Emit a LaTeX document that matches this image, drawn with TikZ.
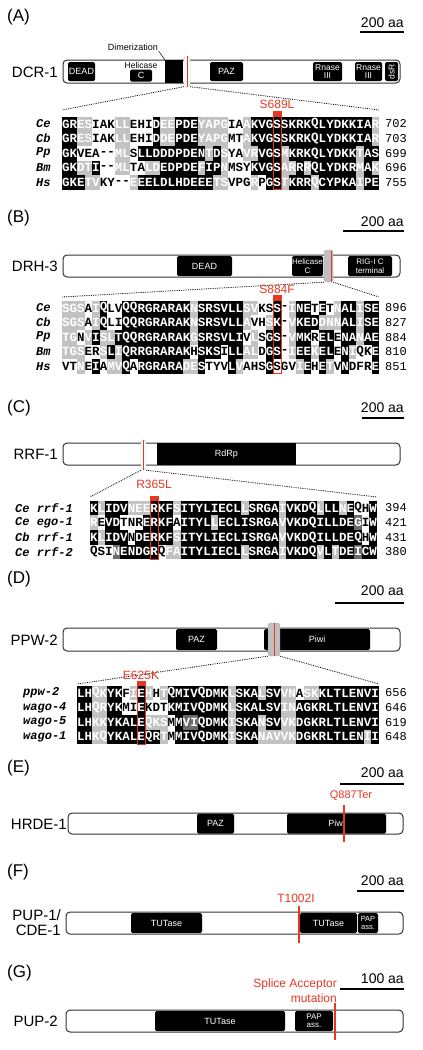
\documentclass[tikz,border=0pt]{standalone}
\usepackage{fontspec}
\setmainfont{Liberation Sans}
\newfontfamily\seqfont{Liberation Mono}
\usepackage{tikz}
\usetikzlibrary{calc}

\definecolor{mutred}{RGB}{230,55,35}
\definecolor{alnk}{gray}{0}
\definecolor{alng}{gray}{0.42}
\definecolor{alnl}{gray}{0.76}
\definecolor{alnw}{gray}{1}

\tikzset{
  protein/.style={draw=black!80, line width=1pt, rounded corners=4pt, fill=white},
  dombox/.style={fill=black, rounded corners=1.5pt, inner sep=0pt, text=white, align=center, font=\fontsize{9}{9}\selectfont},
  zoombox/.style={draw=black!60, densely dotted, rounded corners=2.5pt, inner sep=0pt},
  zoomline/.style={densely dotted, line width=0.8pt},
  seqchar/.style={inner sep=0pt, font=\seqfont\bfseries\fontsize{12.5}{12.5}\selectfont},
  species/.style={anchor=west, inner sep=0pt, font=\seqfont\bfseries\itshape\fontsize{12}{12}\selectfont},
  seqnum/.style={anchor=west, inner sep=0pt, font=\seqfont\fontsize{12}{12}\selectfont},
  panel/.style={anchor=west, inner sep=0pt, font=\fontsize{17}{17}\selectfont},
  scalelab/.style={anchor=east, inner sep=0pt, font=\fontsize{14}{14}\selectfont},
  scalebar/.style={line width=1.4pt},
  protlab/.style={anchor=east, inner sep=0pt, font=\fontsize{15}{15}\selectfont},
  mutlab/.style={text=mutred, inner sep=0pt, font=\fontsize{12}{12}\selectfont},
  mutcol/.style={draw=mutred, line width=0.8pt},
  mutline/.style={mutred, line width=1.6pt},
}

% one aligned row: name, x0, y, residues, shading (k black, g gray, l light, w white)
\makeatletter
\newcount\alncol
\def\cellw{7.55}
\newcommand\seqrow[5]{%
  \global\alncol=0
  \def\aln@name{#1}\def\aln@x{#2}\def\aln@y{#3}%
  \aln@next#4\relax#5\relax}
\def\aln@next#1#2\relax#3#4\relax{%
  \aln@cell{#1}{#3}%
  \global\advance\alncol by 1
  \ifx\relax#2\relax\else\aln@next#2\relax#4\relax\fi}
\def\aln@cell#1#2{%
  \ifx w#2\def\aln@tc{black}\else\def\aln@tc{white}\fi
  \fill[aln#2] ({\aln@x+\the\alncol*\cellw},{\aln@y-7.3}) rectangle ({\aln@x+(\the\alncol+1)*\cellw+0.25},{\aln@y+7.45});
  \node[seqchar,text=\aln@tc] (\aln@name-\the\alncol) at ({\aln@x+(\the\alncol+0.5)*\cellw},\aln@y) {#1};}
\makeatother

\begin{document}
\begin{tikzpicture}[x=1pt,y=-1pt]
\useasboundingbox (0,0) rectangle (423,1050);

% (A) DCR-1
\begin{scope}
  \node[panel] (pA) at (7,17) {(A)};
  \node[scalelab] (sA) at (404,23) {200 aa};
  \draw[scalebar] (360,32) -- (404,32);
  \draw[protein] (63,60) rectangle (400,83);
  \node[protlab] (dcr) at (58,72) {DCR-1};
  \node[dombox, minimum width=27, minimum height=19] (deadA) at (81.5,71.5) {DEAD};
  \node[dombox, minimum width=22, minimum height=12] (helA) at (141,75.5) {C};
  \node[inner sep=0pt, font=\fontsize{8.5}{8.5}\selectfont] (helAt) at (141,65.5) {Helicase};
  \node[dombox, rounded corners=0pt, minimum width=18, minimum height=23] (dimA) at (174,71.5) {};
  \node[inner sep=0.5pt, font=\fontsize{9}{9}\selectfont] (dimlab) at (133,47) {Dimerization};
  \draw[line width=0.5pt] (dimlab.south east) -- (dimA.north west);
  \node[zoombox, fill=white, minimum width=6, minimum height=30] (zA) at (187,71.5) {};
  \draw[mutred, line width=0.6pt] (zA.north) -- (zA.south);
  \node[dombox, minimum width=33, minimum height=19] (pazA) at (226.5,71.5) {PAZ};
  \node[dombox, minimum width=29, minimum height=19, font=\fontsize{8.5}{8.5}\selectfont] (rn1A) at (327.5,71.5) {Rnase\\III};
  \node[dombox, minimum width=27, minimum height=19, font=\fontsize{8.5}{8.5}\selectfont] (rn2A) at (368.5,71.5) {Rnase\\III};
  \node[dombox, rotate=90, minimum width=19, minimum height=13, font=\fontsize{8.5}{8.5}\selectfont] (dsrA) at (391.5,71.5) {dsR};
  \coordinate (Atl) at (62,110);
  \coordinate (Atr) at (379,110);
  \draw[zoomline] (zA.south west) -- (Atl);
  \draw[zoomline] (zA.south east) -- (Atr);
  \seqrow{A1}{62}{124}{GRESIAKLLEHIDEEPDEYAPGIAAKVGSSKRKQLYDKKIAR}{kkllwwwllwwwkllkkkllllwwlkkkkkkkkkkkkkkkkl}
  \seqrow{A2}{62}{138.6}{GRESIAKLLEHIDDEPDEYAPGMTAKVGSSKRKQLYDKKIAR}{kkllwwwllwwwkllkkkllllwwlkkkkkkkkkkkkkkkkl}
  \seqrow{A3}{62}{153.2}{GKVEA--MLSLLDDDPDENTDSYAVRVGSMKRKQLYDKKTAS}{kkwwwwwllwkkkkkkkkklklwwllkkklkkkkkkkkklkk}
  \seqrow{A4}{62}{167.8}{GKDTI--MLTALDEDPDEFIPNMSYKVGSARRRQLYDKRMAK}{kkllkwwllwwllkkkkklkklwwwkkkkllklkkkkkklkl}
  \seqrow{A5}{62}{182.4}{GKETVKY--EEELDLHDEEETSVPGRPGSTKRRQCYPKAIPE}{kkkllwwwwlkkkkkkkkkkllwwwlwkklkkklkkkkklkk}
  \node[species] (spA1) at (36,124) {Ce};
  \node[species] (spA2) at (36,138.6) {Cb};
  \node[species] (spA3) at (36,153.2) {Pp};
  \node[species] (spA4) at (36,167.8) {Bm};
  \node[species] (spA5) at (36,182.4) {Hs};
  \node[seqnum] (nA1) at (385,124) {702};
  \node[seqnum] (nA2) at (385,138.6) {703};
  \node[seqnum] (nA3) at (385,153.2) {699};
  \node[seqnum] (nA4) at (385,167.8) {696};
  \node[seqnum] (nA5) at (385,182.4) {755};
  \fill[mutred] (273.4,111) rectangle (281,117);
  \draw[mutcol] (273.4,111) rectangle (281,189.7);
  \node[mutlab] (mA) at (277,104) {S689L};
\end{scope}

% (B) DRH-3
\begin{scope}
  \node[panel] (pB) at (7,218) {(B)};
  \node[scalelab] (sB) at (404,222) {200 aa};
  \draw[scalebar] (343,231) -- (404,231);
  \draw[protein] (63,255) rectangle (400,277);
  \node[protlab] (drh) at (58,266.5) {DRH-3};
  \node[dombox, minimum width=55, minimum height=20] (deadB) at (204.5,266) {DEAD};
  \node[dombox, minimum width=31, minimum height=20, font=\fontsize{8}{8.5}\selectfont] (helB) at (307.5,266) {Helicase\\C};
  \node[zoombox, fill=black!25, minimum width=9, minimum height=32] (zB) at (328.5,266) {};
  \draw[mutred, line width=0.6pt] (331,250.5) -- (331,281.5);
  \node[dombox, minimum width=44, minimum height=20, font=\fontsize{8}{8.5}\selectfont] (rigB) at (370,266) {RIG-I C\\terminal};
  \coordinate (Btl) at (62,297);
  \coordinate (Btr) at (379,297);
  \draw[zoomline] (zB.south west) -- (Btl);
  \draw[zoomline] (zB.south east) -- (Btr);
  \seqrow{B1}{62}{308}{SGSAIQLVQQRGRARAKNSRSVLLSVKSS-INETETNALISE}{lllwlkwwkkkkkkkkklkkkkkkllwwkwlkkwkwlkklkk}
  \seqrow{B2}{62}{322.6}{SGSAIQLIQQRGRARAKNSRSVLLAVHSK-VKEDDNNALISE}{lllwlkwwkkkkkkkkklkkkkkklwwlkwlkkklllkklkk}
  \seqrow{B3}{62}{337.2}{TGNVISLTQQRGRARAKGSRSVLIVLSGS-VMKRELENANAE}{llwlkllkkkkkkkkkklkkkkkkwlwkkwlkkwkkwkklkk}
  \seqrow{B4}{62}{351.8}{TGSERSLIQRRGRARAKHSKSILLALDGS-IEEKELENIQKE}{lllwwlklkkkkkkkkkwkkkwkkllwkkwlkklkkwklwwk}
  \seqrow{B5}{62}{366.4}{VTNEIAMVQARGRARADESTYVLVAHSGSGVIEHETVNDFRE}{wwlwkwllkwkkkkkkllkwwwklwwwkwwwlkwklwkwwwk}
  \node[species] (spB1) at (36,308) {Ce};
  \node[species] (spB2) at (36,322.6) {Cb};
  \node[species] (spB3) at (36,337.2) {Pp};
  \node[species] (spB4) at (36,351.8) {Bm};
  \node[species] (spB5) at (36,366.4) {Hs};
  \node[seqnum] (nB1) at (385,308) {896};
  \node[seqnum] (nB2) at (385,322.6) {827};
  \node[seqnum] (nB3) at (385,337.2) {884};
  \node[seqnum] (nB4) at (385,351.8) {810};
  \node[seqnum] (nB5) at (385,366.4) {851};
  \fill[mutred] (273.4,295) rectangle (281,301);
  \draw[mutcol] (273.4,295) rectangle (281,373.7);
  \node[mutlab] (mB) at (277,289) {S884F};
\end{scope}

% (C) RRF-1
\begin{scope}
  \node[panel] (pC) at (7,408) {(C)};
  \node[scalelab] (sC) at (404,408) {200 aa};
  \draw[scalebar] (362,418) -- (404,418);
  \draw[protein] (63,443) rectangle (400,465);
  \node[protlab] (rrf) at (58,454.5) {RRF-1};
  \node[dombox, rounded corners=0pt, minimum width=139, minimum height=22] (rdrp) at (226.5,454) {RdRp};
  \node[zoombox, fill=white, minimum width=5, minimum height=30] (zC) at (143.5,455) {};
  \draw[mutred, line width=0.6pt] (zC.north) -- (zC.south);
  \coordinate (Ctl) at (90,497);
  \coordinate (Ctr) at (377,497);
  \draw[zoomline] (zC.south west) -- (Ctl);
  \draw[zoomline] (zC.south east) -- (Ctr);
  \seqrow{C1}{90}{508}{KLIDVNEERKFSITYLIECLLSRGAIVKDQLLLNEQHW}{klkkklllkkklkkkkkkkklkkkklkkkklkklkwwk}
  \seqrow{C2}{90}{522.6}{REVDTNRERKFAITYLLECLISRGAVVKDQILLDEGIW}{lwkkwwwkkkkwkkkklkkkkkkkklkkkkkkkkkgwk}
  \seqrow{C3}{90}{537.2}{KLIDVNDERKFSITYLIECLISRGAVVKDQILLDEQHW}{klkkkwkkkkklkkkkkkkkkkkkklkkkkkkkkkkwk}
  \seqrow{C4}{90}{551.8}{QSINENDGRQFAITYLIECLLSRGAIVKDQVLTDEICW}{wwwgkkkkkwllkkkkkkkklkkkklkkkklklkkgkk}
  \node[species] (spC1) at (15,508) {Ce rrf-1};
  \node[species] (spC2) at (15,522.6) {Ce ego-1};
  \node[species] (spC3) at (15,537.2) {Cb rrf-1};
  \node[species] (spC4) at (15,551.8) {Ce rrf-2};
  \node[seqnum] (nC1) at (385,508) {394};
  \node[seqnum] (nC2) at (385,522.6) {421};
  \node[seqnum] (nC3) at (385,537.2) {431};
  \node[seqnum] (nC4) at (385,551.8) {380};
  \fill[mutred] (150.4,496) rectangle (158,501);
  \draw[mutcol] (150.4,496) rectangle (158,559.1);
  \node[mutlab] (mC) at (154,484) {R365L};
\end{scope}

% (D) PPW-2
\begin{scope}
  \node[panel] (pD) at (7,579) {(D)};
  \node[scalelab] (sD) at (404,591) {200 aa};
  \draw[scalebar] (335,603) -- (404,603);
  \draw[protein] (63,628) rectangle (400,651);
  \node[protlab] (ppw) at (58,640) {PPW-2};
  \node[dombox, minimum width=41, minimum height=21] (pazD) at (196.5,639.5) {PAZ};
  \node[dombox, minimum width=106, minimum height=21] (piwiD) at (317,639.5) {Piwi};
  \node[zoombox, fill=black!25, minimum width=12, minimum height=33] (zD) at (274,639.5) {};
  \draw[mutred, line width=0.6pt] (zD.north) -- (zD.south);
  \coordinate (Dtl) at (77,684);
  \coordinate (Dtr) at (379,684);
  \draw[zoomline] (zD.south west) -- (Dtl);
  \draw[zoomline] (zD.south east) -- (Dtr);
  \seqrow{D1}{77}{693}{LHQKYKFIEHHTQMIVQDMKLSKALSVVNASKKLTLENVI}{kkllkkwlklwlkkkkkkkklkkklkkllwllkkkkkkkk}
  \seqrow{D2}{77}{707.6}{LHQRYKMIEKDTKMIVQDMKLSKALSVINAGKRLTLENVI}{kkllkkwwkwwwkkkkkkkklkkkkkkllkkkkkkkkkkk}
  \seqrow{D3}{77}{722.2}{LHKKYKALEQKSMMVIQDMKISKANSVVKDGKRLTLENVI}{kkllkkkkklllwkggkkkklkkklkkllkkkkkkkkkkk}
  \seqrow{D4}{77}{736.8}{LHKQYKALEQRTMMIVQDMKISKANAVVKDGKRLTLENII}{kkllkkkkkkklwkkkkkkklkkklllllkkkkkkkkklk}
  \node[species] (spD1) at (23,693) {ppw-2};
  \node[species] (spD2) at (23,707.6) {wago-4};
  \node[species] (spD3) at (23,722.2) {wago-5};
  \node[species] (spD4) at (23,736.8) {wago-1};
  \node[seqnum] (nD1) at (385,693) {656};
  \node[seqnum] (nD2) at (385,707.6) {646};
  \node[seqnum] (nD3) at (385,722.2) {619};
  \node[seqnum] (nD4) at (385,736.8) {648};
  \fill[mutred] (137.4,681) rectangle (145,686);
  \draw[mutcol] (137.4,681) rectangle (145,744.1);
  \node[mutlab] (mD) at (141,675) {E625K};
\end{scope}

% (E) HRDE-1
\begin{scope}
  \node[panel] (pE) at (7,768) {(E)};
  \node[scalelab] (sE) at (404,773) {200 aa};
  \draw[scalebar] (340,784) -- (404,784);
  \draw[protein] (68,813) rectangle (403,834);
  \node[protlab] (hrde) at (67,824) {HRDE-1};
  \node[dombox, minimum width=37, minimum height=20] (pazE) at (215.5,823.5) {PAZ};
  \node[dombox, minimum width=99, minimum height=20] (piwiE) at (336.5,823.5) {Piwi};
  \draw[mutline] (344,805) -- (344,842);
  \node[mutlab, font=\fontsize{11}{11}\selectfont] (mE) at (351,796) {Q887Ter};
\end{scope}

% (F) PUP-1/CDE-1
\begin{scope}
  \node[panel] (pF) at (7,872) {(F)};
  \node[scalelab] (sF) at (404,881) {200 aa};
  \draw[scalebar] (357,891) -- (404,891);
  \draw[protein] (66,912) rectangle (403,934);
  \node[protlab, align=right, font=\fontsize{15}{15}\selectfont] (pup1) at (61,923) {PUP-1/\\CDE-1};
  \node[dombox, minimum width=71, minimum height=20] (tut1F) at (166.5,923) {TUTase};
  \node[dombox, minimum width=57, minimum height=20] (tut2F) at (328.5,923) {TUTase};
  \node[dombox, minimum width=20, minimum height=20, font=\fontsize{7.5}{8}\selectfont] (papF) at (368,923) {PAP\\ass.};
  \draw[mutline] (299,906) -- (299,943);
  \node[mutlab] (mF) at (296,898) {T1002I};
\end{scope}

% (G) PUP-2
\begin{scope}
  \node[panel] (pG) at (7,973) {(G)};
  \node[scalelab] (sG) at (404,979) {100 aa};
  \draw[scalebar] (340,989) -- (404,989);
  \draw[protein] (66,1010) rectangle (403,1032);
  \node[protlab] (pup2) at (58,1021.5) {PUP-2};
  \node[dombox, minimum width=130, minimum height=20] (tutG) at (220,1021) {TUTase};
  \node[dombox, minimum width=38, minimum height=20, font=\fontsize{8}{8.5}\selectfont] (papG) at (314,1021) {PAP\\ass.};
  \draw[mutline] (335,1003) -- (335,1040);
  \node[mutlab, anchor=east, align=right, font=\fontsize{12}{15}\selectfont] (mG) at (337,990.5) {Splice Acceptor\\mutation};
\end{scope}

\end{tikzpicture}
\end{document}
